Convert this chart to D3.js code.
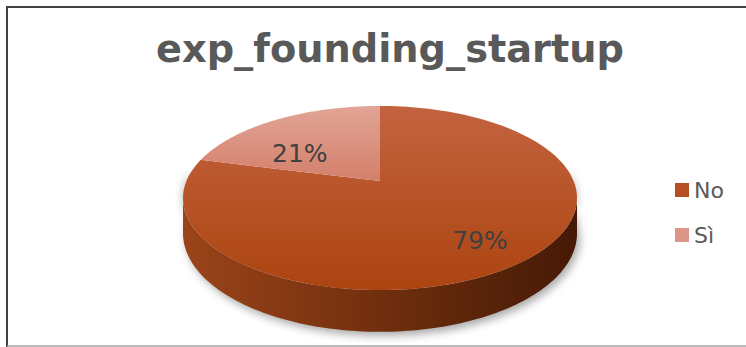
<!DOCTYPE html>
<html><head><meta charset="utf-8">
<script src="https://cdn.jsdelivr.net/npm/d3@7/dist/d3.min.js"></script>
<style>html,body{margin:0;padding:0;background:#fff;}svg{display:block;}</style>
</head><body>
<script>
const title = "exp_founding_startup";
const categories = ["No", "Sì"];
const values = [79, 21];
const labels = ["79%", "21%"];

const W = 746, H = 347;
const svg = d3.select("body").append("svg").attr("width", W).attr("height", H);
const defs = svg.append("defs");

// frame
svg.append("line").attr("x1",7).attr("x2",W).attr("y1",7).attr("y2",7).attr("stroke","#404040").attr("stroke-width",2);
svg.append("line").attr("x1",7).attr("x2",7).attr("y1",6).attr("y2",H).attr("stroke","#404040").attr("stroke-width",2);
svg.append("line").attr("x1",7).attr("x2",W).attr("y1",346).attr("y2",346).attr("stroke","#a6a6a6").attr("stroke-width",1.5);

svg.append("text").attr("x",390).attr("y",62).attr("text-anchor","middle")
  .attr("font-family","DejaVu Sans, Verdana, sans-serif").attr("font-weight","bold")
  .attr("font-size",38.3).attr("fill","#595959").text(title);

// projection of a tilted disc with mild perspective
const cx = 380, cy = 181, s = 193.6, sa = 88.9, k = 0.185, depth = 34;
function proj(t, down, r = 1) {
  const w = 1 - k * r * Math.sin(t);
  return [cx + s * r * Math.cos(t) / w, cy + (sa * r * Math.sin(t) + (down ? depth : 0)) / w];
}

const pie = d3.pie().sort(null).value(d => d)(values);
const toT = a => a - Math.PI / 2;

const topGrad = [["#c3633f","#ac4410"],["#e2a595","#d37f6b"]];
topGrad.forEach((g,i) => {
  const lg = defs.append("linearGradient").attr("id","tg"+i).attr("x1",0).attr("y1",0).attr("x2",0).attr("y2",1);
  lg.append("stop").attr("offset","0%").attr("stop-color",g[0]);
  lg.append("stop").attr("offset","100%").attr("stop-color",g[1]);
});
const wg = defs.append("linearGradient").attr("id","wall").attr("x1",0).attr("y1",0).attr("x2",1).attr("y2",0);
[["0%","#9a4419"],["40%","#7a3310"],["75%","#5a240a"],["100%","#461906"]].forEach(p =>
  wg.append("stop").attr("offset",p[0]).attr("stop-color",p[1]));

const blur = defs.append("filter").attr("id","blur").attr("x","-20%").attr("y","-20%").attr("width","140%").attr("height","140%");
blur.append("feGaussianBlur").attr("stdDeviation",4);

const line = d3.line();
function arcPts(t0, t1, down, n) {
  const pts = [];
  for (let i = 0; i <= n; i++) pts.push(proj(t0 + (t1 - t0) * i / n, down));
  return pts;
}

// shadow
const ts0 = Math.asin(k), ts1 = Math.PI - Math.asin(k);
const shadowPts = arcPts(ts0, ts1, true, 80).map(p => [p[0] + 3, p[1] + 4]);
svg.append("path").attr("d", line(arcPts(ts0 - 0.3, ts1 + 0.3, false, 40).concat(shadowPts.reverse())) + "Z")
  .attr("fill","#707070").attr("opacity",0.6).attr("filter","url(#blur)");

// wall
const wallPts = arcPts(ts0, ts1, false, 120).concat(arcPts(ts1, ts0, true, 120));
svg.append("path").attr("d", line(wallPts) + "Z").attr("fill","url(#wall)");

// top faces
pie.forEach((p, i) => {
  const pts = [[cx, cy]].concat(arcPts(toT(p.startAngle), toT(p.endAngle), false, 150));
  svg.append("path").attr("d", line(pts) + "Z").attr("fill", "url(#tg"+i+")");
});

// labels
const nudgeY = [0, 19];
pie.forEach((p, i) => {
  const a = toT((p.startAngle + p.endAngle) / 2);
  const [x, y] = proj(a, false, 0.75);
  svg.append("text").attr("x", x).attr("y", y + nudgeY[i]).attr("dy","0.36em").attr("text-anchor","middle")
    .attr("font-family","DejaVu Sans, Verdana, sans-serif").attr("font-size",25).attr("fill","#404040")
    .text(labels[i]);
});

// legend
const legCol = ["#b64f22","#dc9687"];
categories.forEach((c, i) => {
  const y = 190 + i * 45;
  svg.append("rect").attr("x",675).attr("y",y-7).attr("width",14).attr("height",14).attr("fill",legCol[i]);
  svg.append("text").attr("x",694).attr("y",y).attr("dy","0.36em")
    .attr("font-family","DejaVu Sans, Verdana, sans-serif").attr("font-size",22).attr("fill","#595959").text(c);
});
</script>
</body></html>
